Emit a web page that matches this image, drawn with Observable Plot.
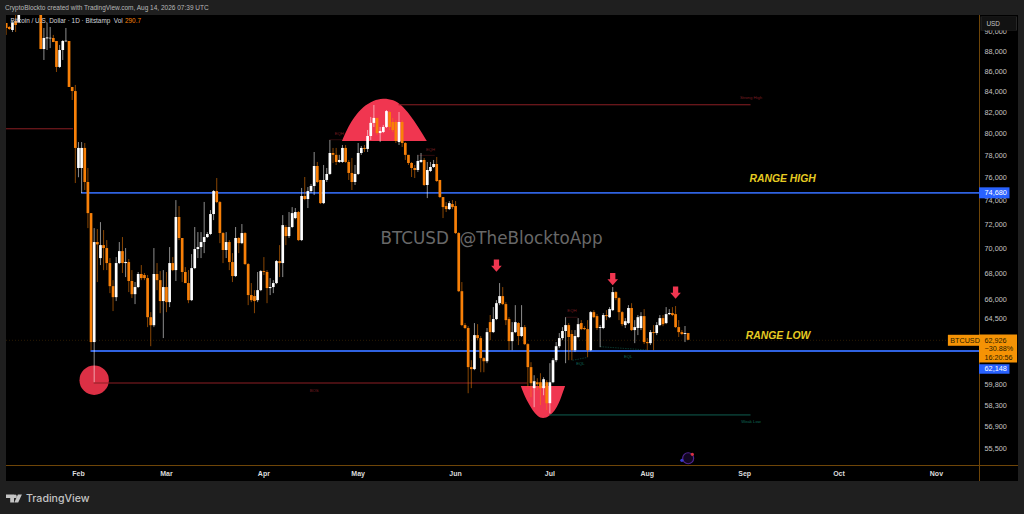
<!DOCTYPE html>
<html>
<head>
<meta charset="utf-8">
<script src="https://cdn.jsdelivr.net/npm/d3@7"></script>
<script src="https://cdn.jsdelivr.net/npm/@observablehq/plot@0.6"></script>
<style>
html,body{margin:0;padding:0;width:1024px;height:514px;overflow:hidden;background:#1f1f1f;font-family:"Liberation Sans",Arial,sans-serif}
#head{height:15px;line-height:15px;padding-left:5px;font-size:6.5px;color:#b8b8b8;white-space:nowrap}
#chart svg{display:block;margin-left:6px}
#foot{height:33px;display:flex;align-items:center;padding:2px 0 0 6px;color:#c4c4c4;font-size:10.6px;font-family:"Inter","Liberation Sans",sans-serif;font-weight:500;gap:4px;box-sizing:border-box}
</style>
</head>
<body>
<div id="head">CryptoBlockto created with TradingView.com, Aug 14, 2026 07:39 UTC</div>
<div id="chart"></div>
<div id="foot"><svg width="16" height="9" viewBox="0 0 16 9"><path d="M0 .4h8v8.2H4.2V4.1H0z M9 4.2a1.8 1.8 0 1 1 0-3.6 1.8 1.8 0 0 1 0 3.6z M11.9.4H15.9L12.2 8.6H8.3z" fill="#c4c4c4"/></svg><span>TradingView</span></div>
<script>
// Daily candles from 2026-01-09 (first value) to 2026-08-14 (last value), USD
const firstDay = Date.UTC(2026, 0, 9);
const opens = [
90910,90490,90175,91120,91015,92100,94000,95500,95300,95200,
95000,92700,88200,89300,89300,89340,89030,86385,88100,89000,
89030,84400,84000,76820,76820,78630,75580,72900,62760,70490,
69190,70240,70000,68790,66970,66120,68790,69750,68790,68870,
67370,66350,66900,67920,67840,67600,64600,64000,67920,67440,
65820,66900,65740,68790,68230,72570,70820,68080,67210,65890,
68390,69920,70080,70490,70900,71150,72820,74790,73840,71230,
69840,70490,68870,67760,70820,70400,71230,68710,66280,66200,
65890,66660,68150,68080,66820,66900,67210,68950,68790,71730,
70980,71730,72480,72990,70650,74360,74100,74790,75230,77000,
75760,73750,75760,76290,78170,78000,77360,77360,78630,77360,
76380,75580,76290,78170,78630,78540,79730,80950,81420,80000,
80100,80570,81980,81035,81035,79170,81035,79080,78000,77270,
76820,76640,77360,77540,75320,76550,76910,77180,75760,74270,
73500,73240,73670,73500,71230,66580,64010,63790,60960,60820,
63270,63050,61600,61380,64230,63490,64460,65660,66200,65590,
64460,62830,63490,64160,63200,63860,62610,60960,59490,59900,
59900,59490,59900,58460,59900,61455,62460,63050,63570,64010,
63350,62170,63130,64160,63790,63710,62170,64980,64680,63790,
63790,64760,64600,65130,66510,66050,64980,64010,64160,65290,
63640,63790,63790,64680,62760,62680,63490,63420,64010,64530,
64160,64830,64910,64830,63860,63490,63350,63420];
const closes = [
90385,90280,90910,90700,91870,94000,95500,95300,95200,95000,
92700,88200,89340,89400,89360,88920,86385,88100,89030,89060,
84400,84000,78630,78630,78630,75580,72900,62760,70490,70300,
70240,70000,68790,66970,66120,68790,69750,68790,68880,67370,
66350,66900,67920,67600,67600,64600,64000,67920,67440,65820,
66900,65740,68790,68230,72570,70820,68080,67210,65890,68390,
69920,70080,70490,70900,71150,72820,74790,73840,71230,69840,
70490,68870,67760,70820,70400,71230,68710,66280,65890,65820,
66660,68150,68080,66820,66900,67210,68950,68790,71890,70980,
71730,72900,72990,70650,74360,74100,74790,75230,77000,75580,
73750,75760,76290,78170,78000,77360,77540,78630,77360,76380,
75580,76290,78170,78630,78540,79730,80950,81420,80000,80190,
80570,82070,80570,80285,79270,81035,79080,78000,77270,76820,
76640,77450,77540,75320,76640,76910,77180,75670,74270,73410,
73240,73750,73410,71230,66580,64010,63790,60960,60820,63270,
63050,61600,61380,63490,63490,64460,65660,66200,65590,64380,
62830,63490,64230,63200,63860,62610,60960,59830,59970,59760,
59490,60110,58460,59900,61455,62460,63050,63570,64010,63130,
62170,63200,64080,63710,63710,62170,64980,64600,63790,63860,
64760,64680,65210,66510,66050,64980,64080,64300,65290,63640,
63860,64600,64680,62760,62680,63490,63420,64010,64530,64080,
64830,64910,64760,63860,63490,63350,63420,62926];
const highs = [
90910,90595,91120,91760,92400,94500,96000,96500,95800,95500,
95200,93000,90385,90910,90490,89660,89030,88620,89130,90385,
89030,84400,84600,79170,79170,79080,76820,72900,71640,71560,
72140,71480,70650,69190,67440,69270,70490,70900,70000,69110,
68230,67290,68080,68630,68000,67840,64980,70000,68790,68150,
68230,68080,70080,69270,74010,73500,70820,68470,68230,69510,
71730,71310,71310,73850,71310,73160,74880,75930,73930,71310,
71310,70650,69590,71730,70900,71980,71310,68790,67210,66660,
68080,68230,69270,68230,67600,67440,69030,70240,72730,71890,
72990,73410,73330,73070,75060,76020,75140,75400,78260,77360,
75760,77090,76820,79360,78630,78630,78000,78900,78900,77540,
77720,77090,79080,78810,78900,80290,81510,82650,81420,80570,
80760,82170,82070,81420,81225,81980,81225,79170,78000,77360,
77090,78000,78170,77720,77360,77360,77540,77810,75760,74270,
73840,73930,74010,73930,71310,67290,64160,63930,61455,64160,
64080,63200,61670,63790,64760,65360,65890,67210,66900,65740,
64600,64230,65510,64230,65510,64010,62680,61310,60390,60180,
60530,60250,60040,61240,61600,62760,63420,63860,64600,64160,
63640,63640,64530,64380,63930,64380,65060,65130,64830,64010,
64910,65130,65360,66900,66580,66120,65060,64530,65510,65660,
64380,64760,64980,65210,63050,63640,64010,64230,64760,64760,
65360,65210,65360,65440,64380,63640,63940,63420];
const lows = [
89660,90175,89960,89960,90900,92000,93500,94500,94800,94500,
92000,88200,87085,88100,88300,88920,85880,86280,87085,88920,
84400,83130,75490,76000,74620,74880,71640,62170,59900,67290,
68630,68230,68230,66430,65060,65820,68710,68000,67680,66510,
66050,65590,66820,67440,67440,63860,62460,63860,66660,64900,
63050,64980,65360,68150,67370,70650,67290,67210,65660,65820,
68310,69190,69190,69590,70820,71060,72310,73750,70400,68790,
69190,68230,67290,67680,69590,70320,68630,65510,65740,64900,
65740,66580,67840,65660,66280,66430,67130,67680,67680,70240,
70820,71640,72390,70570,70570,74010,73330,74620,74450,75490,
73670,73670,75580,76200,77270,77090,77270,77270,77270,75760,
74880,75320,76200,78000,78260,78260,79360,80570,79820,79170,
80000,80470,80285,80100,79080,78900,78720,77540,77090,76020,
75930,76460,77270,75230,74180,76460,76820,75580,74180,72480,
72990,73160,73240,71150,66510,63930,63710,59140,59490,60745,
62900,60600,60600,61240,62900,63420,64380,65510,65510,64010,
62170,62170,63420,62540,63130,62540,59560,58870,58190,59350,
58330,59000,57990,57780,59830,61310,62320,62900,61240,61455,
61455,62040,63050,63640,63640,61670,62100,64530,63640,62390,
63710,64380,64530,65060,65890,64380,63930,63790,64080,63570,
62680,63270,63640,62610,62170,62540,62170,63270,63930,63930,
64080,64760,64680,63790,63130,63270,62760,62900];

const priceTicks = [90000,88000,86000,84000,82000,80000,78000,76000,74000,72000,70000,68000,66000,64500,59800,58300,56900,55500];
const monthTicks = ["2026-02-01","2026-03-01","2026-04-01","2026-05-01","2026-06-01","2026-07-01","2026-08-01","2026-09-01","2026-10-01","2026-11-01"];
const rangeHigh = 74680, rangeLow = 62148, lastPrice = 62926;
// dome and bowl outlines
const domeDates = ["2026-04-26","2026-04-28","2026-04-30T02:00","2026-05-02T19:00","2026-05-06","2026-05-09T02:00","2026-05-12T07:00","2026-05-15","2026-05-17T14:00","2026-05-20T07:00","2026-05-23"];
const domePrices = [79270,80540,81540,82430,83035,83260,83100,82580,81700,80540,79270];
const bowlDates = ["2026-06-21T22:00","2026-06-23T07:00","2026-06-25T17:00","2026-06-29","2026-07-02T17:00","2026-07-04T19:00","2026-07-06"];
const bowlPrices = [59630,58890,57990,57470,57990,58890,59630];
const arrowDates = ["2026-06-14","2026-07-21","2026-08-10"];
const arrowPrices = [68630,67560,66510];
const levels = [
  {from:"2026-01-09",to:"2026-01-30T10:00",p:80445,c:"#8c1f24",w:1},
  {from:"2026-02-06",to:"2026-06-24",p:59880,c:"#8c1f24",w:1},
  {from:"2026-05-14",to:"2026-09-03",p:82720,c:"#8c1f24",w:1},
  {from:"2026-07-01",to:"2026-09-03",p:57700,c:"#0f5f50",w:1},
  {from:"2026-04-22",to:"2026-04-26",p:79430,c:"#4d1216",w:.6},
  {from:"2026-05-20T10:00",to:"2026-05-25T12:00",p:78000,c:"#4d1216",w:.6},
  {from:"2026-07-06T08:00",to:"2026-07-10",p:64630,c:"#4d1216",w:.6}
];
const smallLabels = [
  {d:"2026-04-25",p:80030,t:"EQH",c:"#7c1d22"},
  {d:"2026-05-24",p:78500,t:"EQH",c:"#7c1d22"},
  {d:"2026-07-08",p:65130,t:"EQH",c:"#7c1d22"},
  {d:"2026-07-10T17:00",p:61220,t:"EQL",c:"#0f6b5a"},
  {d:"2026-07-25T22:00",p:61740,t:"EQL",c:"#0f6b5a"},
  {d:"2026-04-17",p:59350,t:"BOS",c:"#7c1d22"},
  {d:"2026-09-03",p:83370,t:"Strong High",c:"#7c1d22"},
  {d:"2026-09-03",p:57270,t:"Weak Low",c:"#0f6b5a"}
];
const eqlLinks = [
  {d1:"2026-07-08T05:00",p1:61480,d2:"2026-07-13",p2:61690},
  {d1:"2026-07-17",p1:62460,d2:"2026-08-01",p2:62220}
];
const rangeLabels = [
  {d:"2026-09-02T12:00",p:75950,t:"RANGE HIGH"},
  {d:"2026-09-01T08:00",p:63300,t:"RANGE LOW"}
];

const day = 864e5;
const candles = opens.map((o,i)=>({date:new Date(firstDay+i*day),o,c:closes[i],h:highs[i],l:lows[i],up:closes[i]>=o}));
const D = s => new Date(s.length>10 ? s+"Z" : s+"T00:00Z");
const orange="#f88008", redShape="#f03650";
const arrow = {draw(ctx,size){const r=Math.sqrt(size/Math.PI);
  ctx.moveTo(-.5*r,-1.15*r);ctx.lineTo(.5*r,-1.15*r);ctx.lineTo(.5*r,.05*r);ctx.lineTo(r,.05*r);ctx.lineTo(0,1.15*r);ctx.lineTo(-r,.05*r);ctx.lineTo(-.5*r,.05*r);ctx.closePath();}};
const axisEnd=D("2026-11-14T17:00");
const upDays = n => new Date(+axisEnd + n*day);

const plot = Plot.plot({
  width:1012, height:466,
  marginTop:0, marginBottom:16, marginLeft:0, marginRight:39,
  style:{background:"#000",fontFamily:'"Liberation Sans",Arial,sans-serif',overflow:"visible"},
  x:{type:"utc",domain:[D("2026-01-09T02:24"),axisEnd],range:[0,973]},
  y:{type:"log",domain:[54410,91757],range:[450,0]},
  marks:[
    Plot.axisX({ticks:monthTicks.map(D),tickFormat:d3.utcFormat("%b"),tickSize:0,tickPadding:6,fontSize:7,fontWeight:700,color:"#dcdcdc",label:null}),
    Plot.axisY({anchor:"right",ticks:priceTicks,tickFormat:d3.format(","),tickSize:0,tickPadding:5,fontSize:7.3,color:"#c4c4c4",label:null}),
    // frame rules
    Plot.ruleY([54410],{stroke:"#6e4508",strokeWidth:1,insetRight:-39}),
    Plot.ruleX([axisEnd],{stroke:"#6e4508",strokeWidth:1,insetBottom:-16}),
    // price line
    Plot.ruleY([lastPrice],{stroke:"#4a2e05",strokeWidth:.6,strokeDasharray:"1,2"}),
    // shapes under the candles
    Plot.area(domeDates.map((d,i)=>({d:D(d),p:domePrices[i]})),{x1:"d",y1:domePrices[0],y2:"p",fill:redShape,curve:"natural",clip:true}),
    Plot.area(bowlDates.map((d,i)=>({d:D(d),p:bowlPrices[i]})),{x1:"d",y1:bowlPrices[0],y2:"p",fill:redShape,curve:"natural",clip:true}),
    Plot.dot([{d:D("2026-02-06"),p:60075}],{x:"d",y:"p",r:14.7,fill:"#dc3045",stroke:null}),
    // levels
    Plot.ruleY(levels,{y:"p",x1:d=>D(d.from),x2:d=>D(d.to),stroke:"c",strokeWidth:"w",clip:true}),
    Plot.link(eqlLinks,{x1:d=>D(d.d1),y1:"p1",x2:d=>D(d.d2),y2:"p2",stroke:"#0c4d40",strokeWidth:.7,strokeDasharray:"1.5,1"}),
    Plot.ruleY([rangeHigh],{x1:D("2026-02-02"),x2:axisEnd,stroke:"#2f62e0",strokeWidth:1.8}),
    Plot.ruleY([rangeLow],{x1:D("2026-02-05"),x2:axisEnd,stroke:"#2f62e0",strokeWidth:1.8}),
    // candles
    Plot.ruleX(candles,{x:"date",y1:"l",y2:"h",stroke:d=>d.up?"#ffffff":orange,strokeOpacity:.55,strokeWidth:1,clip:true}),
    Plot.ruleX(candles,{x:"date",y1:"o",y2:"c",stroke:d=>d.up?"#ffffff":orange,strokeWidth:2.7,clip:true}),
    // arrows
    Plot.dot(arrowDates.map((d,i)=>({d:D(d),p:arrowPrices[i]})),{x:"d",y:"p",r:5.3,symbol:arrow,fill:redShape,stroke:null}),
    // labels
    Plot.text(smallLabels,{x:d=>D(d.d),y:"p",text:"t",fill:"c",fontSize:4.2}),
    Plot.text(rangeLabels,{x:d=>D(d.d),y:"p",text:"t",fill:"#e6cb22",fontSize:10.4,fontStyle:"italic",fontWeight:700,textAnchor:"start"}),
    Plot.text(["BTCUSD  @TheBlocktoApp"],{frameAnchor:"top-left",dx:374,dy:217,text:d=>d,fill:"#686868",fontSize:16.8,fontFamily:'"DejaVu Sans",sans-serif',lineAnchor:"top",textAnchor:"start",style:{whiteSpace:"pre"}}),
    Plot.text(["Bitcoin / U.S. Dollar · 1D · Bitstamp  Vol"],{frameAnchor:"top-left",dx:4,dy:3,text:d=>d,fill:"#d1d4dc",fontSize:6.4,lineAnchor:"top",textAnchor:"start"}),
    Plot.text(["290.7"],{frameAnchor:"top-left",dx:118.5,dy:3,text:d=>d,fill:orange,fontSize:6.4,lineAnchor:"top",textAnchor:"start"}),
    // events icon
    Plot.dot([{d:D("2026-08-14"),p:54870}],{x:"d",y:"p",r:5.5,fill:"#120622",stroke:"#4f2490",strokeWidth:1.2}),
    Plot.dot([{d:D("2026-08-15T08:00"),p:55120}],{x:"d",y:"p",r:1.6,fill:"#d93040",stroke:null}),
    Plot.dot([{d:D("2026-08-12"),p:54740}],{x:"d",y:"p",r:1.6,fill:"#3a3ad0",stroke:null}),
    // USD box
    Plot.ruleY([90910],{x1:upDays(.5),x2:upDays(12.1),stroke:"#2a2a2a",strokeWidth:14}),
    Plot.ruleY([90910],{x1:upDays(.8),x2:upDays(11.8),stroke:"#121212",strokeWidth:13}),
    Plot.text(["USD"],{x:upDays(2.2),y:90910,text:d=>d,fill:"#c4c4c4",fontSize:6.4,textAnchor:"start"}),
    // price tags
    Plot.ruleY([rangeHigh],{x1:axisEnd,x2:upDays(9.7),stroke:"#2962ff",strokeWidth:11}),
    Plot.text([rangeHigh],{x:upDays(1.6),y:d=>d,text:d3.format(","),fill:"#ffffff",fontSize:7.3,textAnchor:"start"}),
    Plot.ruleY([rangeLow],{x1:axisEnd,x2:upDays(9.7),dy:18,stroke:"#2962ff",strokeWidth:9.5}),
    Plot.text([rangeLow],{x:upDays(1.6),y:d=>d,dy:18,text:d3.format(","),fill:"#ffffff",fontSize:7.3,textAnchor:"start"}),
    Plot.ruleY([lastPrice],{x1:upDays(-9.9),x2:axisEnd,stroke:"#f59305",strokeWidth:11}),
    Plot.ruleY([lastPrice],{x1:axisEnd,x2:upDays(12.1),dy:8.3,stroke:"#f59305",strokeWidth:28}),
    Plot.text(["BTCUSD"],{x:upDays(-9.3),y:lastPrice,text:d=>d,fill:"#2a1c00",fontSize:7.2,textAnchor:"start"}),
    Plot.text([lastPrice],{x:upDays(1.6),y:d=>d,text:d3.format(","),fill:"#2a1c00",fontSize:7.2,textAnchor:"start"}),
    Plot.text(["−30.88%"],{x:upDays(1.6),y:lastPrice,dy:8.6,text:d=>d,fill:"#2a1c00",fontSize:7.2,textAnchor:"start"}),
    Plot.text(["16:20:56"],{x:upDays(1.6),y:lastPrice,dy:17.4,text:d=>d,fill:"#2a1c00",fontSize:7.2,textAnchor:"start"})
  ]
});
document.getElementById("chart").appendChild(plot);
</script>
</body>
</html>
